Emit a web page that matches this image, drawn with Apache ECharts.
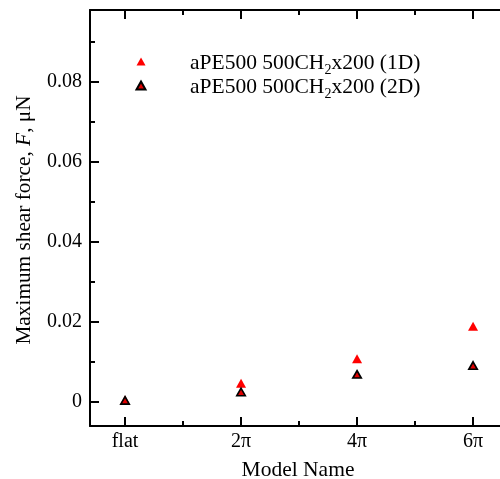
<!DOCTYPE html>
<html>
<head>
<meta charset="utf-8">
<script src="https://cdn.jsdelivr.net/npm/echarts@6/dist/echarts.min.js"></script>
<style>
  html, body { margin: 0; padding: 0; background: #ffffff; }
  #chart { width: 500px; height: 479px; }
</style>
</head>
<body>
<div id="chart"></div>
<script>
// Model surfaces along the x axis
const categories = ['flat', '2π', '4π', '6π'];
// Maximum shear force (μN) for each model
const force1D = [0.0005, 0.0047, 0.0108, 0.0189];
const force2D = [0.0004, 0.0025, 0.0069, 0.0091];
// Series names
const seriesNames = ['aPE500 500CH2x200 (1D)', 'aPE500 500CH2x200 (2D)'];
// Axis tick positions
const xMajorTicks = [0, 1, 2, 3];
const xMinorTicks = [0.5, 1.5, 2.5];
const yMajorTicks = [0, 0.02, 0.04, 0.06, 0.08];
const yMinorTicks = [0.01, 0.03, 0.05, 0.07, 0.09];

const FONT = "'Liberation Serif', 'Times New Roman', serif";
const X_MIN = -0.302, X_MAX = 3.284;
const Y_MIN = -0.006, Y_MAX = 0.0979;

function yLabel(v) {
  return Math.abs(v) < 1e-12 ? '0' : v.toFixed(2);
}

function xAxisDef(position, ticks, len, showLine, showLabels) {
  return {
    type: 'value', position: position, min: X_MIN, max: X_MAX,
    splitLine: { show: false },
    axisLine: { show: showLine, onZero: false, lineStyle: { color: '#000', width: 2 } },
    axisTick: { show: true, inside: true, length: len, customValues: ticks,
                lineStyle: { color: '#000', width: 2 } },
    axisLabel: showLabels ? {
      show: true, customValues: xMajorTicks, margin: 6,
      fontFamily: FONT, fontSize: 20, color: '#000',
      formatter: function (v) { return categories[Math.round(v)]; }
    } : { show: false },
    name: showLabels ? 'Model Name' : '',
    nameLocation: 'middle', nameGap: 33,
    nameTextStyle: { fontFamily: FONT, fontSize: 21.5, color: '#000' }
  };
}

function yAxisDef(position, ticks, len, showLine, showLabels) {
  return {
    type: 'value', position: position, min: Y_MIN, max: Y_MAX,
    splitLine: { show: false },
    axisLine: { show: showLine, onZero: false, lineStyle: { color: '#000', width: 2 } },
    axisTick: { show: true, inside: true, length: len, customValues: ticks,
                lineStyle: { color: '#000', width: 2 } },
    axisLabel: showLabels ? {
      show: true, customValues: yMajorTicks, margin: 8,
      fontFamily: FONT, fontSize: 20, color: '#000', formatter: yLabel
    } : { show: false },
    name: showLabels ? '{a|Maximum shear force, }{i|F}{a|, μN}' : '',
    nameLocation: 'middle', nameGap: 55,
    nameTextStyle: {
      fontFamily: FONT, fontSize: 21.3, color: '#000', padding: [0, 4, 0, 0],
      rich: {
        a: { fontFamily: FONT, fontSize: 21.3, color: '#000' },
        i: { fontFamily: FONT, fontSize: 21.3, color: '#000', fontStyle: 'italic' }
      }
    }
  };
}

function legendText(name) {
  const tail = name.slice(name.indexOf('x200'));
  return '{g| }{t|aPE500 500CH}{s|2}{t|' + tail + '}';
}

const chart = echarts.init(document.getElementById('chart'), null, { renderer: 'canvas' });
chart.setOption({
  animation: false,
  backgroundColor: '#ffffff',
  // the frame's right edge lies just past the canvas edge
  grid: { left: 90, top: 10, width: 416, height: 416, outerBoundsMode: 'none' },
  xAxis: [
    xAxisDef('bottom', xMajorTicks, 9, true, true),
    xAxisDef('bottom', xMinorTicks, 5, false, false),
    xAxisDef('top', xMajorTicks, 9, true, false),
    xAxisDef('top', xMinorTicks, 5, false, false)
  ],
  yAxis: [
    yAxisDef('left', yMajorTicks, 9, true, true),
    yAxisDef('left', yMinorTicks, 5, false, false)
  ],
  legend: {
    data: seriesNames,
    orient: 'vertical',
    left: 135.5, top: 46, padding: 0,
    itemWidth: 9, itemHeight: 8, itemGap: -7,
    formatter: legendText,
    textStyle: {
      fontFamily: FONT, fontSize: 21.5, color: '#000',
      rich: {
        g: { width: 39.5, fontSize: 20, lineHeight: 20 },
        t: { fontFamily: FONT, fontSize: 21.5, color: '#000', lineHeight: 21, padding: [4, 0, 0, 0], verticalAlign: 'middle' },
        s: { fontFamily: FONT, fontSize: 14, color: '#000', lineHeight: 14, padding: [17, 0, 0, 0], verticalAlign: 'middle' }
      }
    }
  },
  series: [
    {
      name: seriesNames[0], type: 'scatter', xAxisIndex: 0, yAxisIndex: 0,
      symbol: 'triangle', symbolSize: [10, 9],
      itemStyle: { color: '#ff0000', borderWidth: 0, opacity: 1 },
      data: force1D.map(function (v, i) { return [i, v]; })
    },
    {
      name: seriesNames[1], type: 'scatter', xAxisIndex: 0, yAxisIndex: 0,
      symbol: 'triangle', symbolSize: [8.5, 7.5],
      itemStyle: { color: '#e00000', borderColor: '#000000', borderWidth: 1.6, opacity: 1 },
      data: force2D.map(function (v, i) { return [i, v]; })
    }
  ]
});
</script>
</body>
</html>
